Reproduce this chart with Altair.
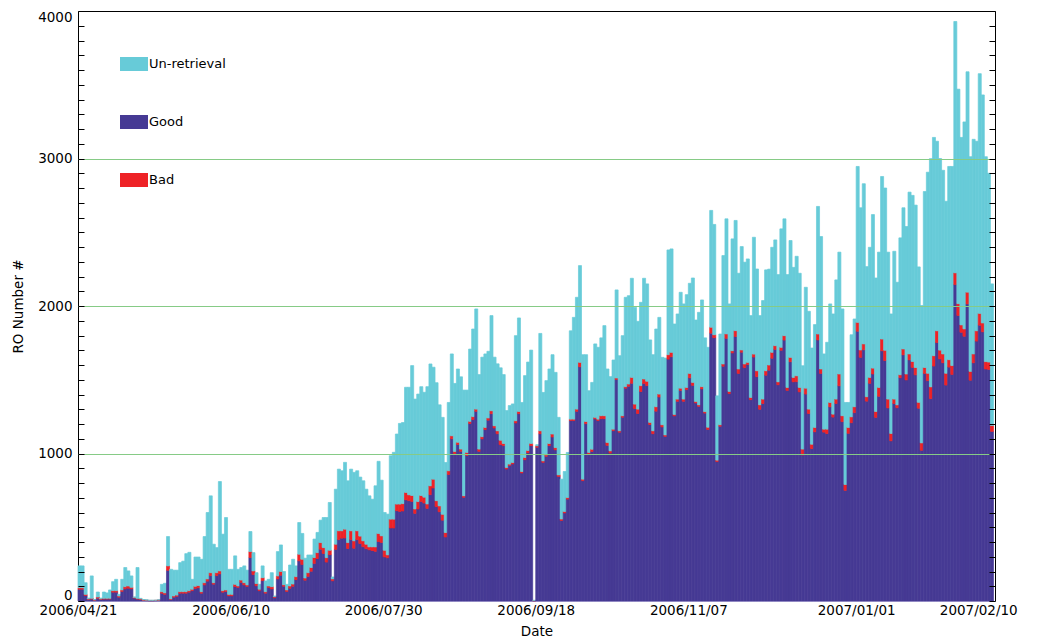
import altair as alt
import pandas as pd

start_date = "2006-04-21"

good = [
    80, 80, 37, 10, 13, 5, 19, 10, 13, 13,
    13, 60, 60, 26, 65, 82, 87, 83, 20, 13,
    10, 4, 3, 2, 2, 3, 4, 53, 45, 208,
    10, 26, 32, 53, 53, 53, 60, 70, 85, 90,
    53, 109, 135, 172, 114, 172, 184, 60, 65, 35,
    35, 98, 92, 127, 109, 99, 295, 179, 103, 70,
    138, 53, 92, 82, 22, 150, 175, 100, 65, 87,
    100, 145, 272, 248, 141, 167, 202, 255, 288, 351,
    322, 264, 314, 137, 350, 416, 426, 427, 356, 416,
    358, 416, 390, 368, 355, 347, 342, 337, 403, 397,
    299, 293, 495, 495, 612, 607, 610, 686, 680, 675,
    594, 624, 675, 664, 628, 721, 766, 640, 605, 548,
    434, 858, 1100, 999, 1061, 1015, 703, 987, 1203, 1230,
    1286, 1015, 1099, 1162, 1226, 1270, 1173, 1134, 1060, 1053,
    895, 918, 929, 1207, 1270, 868, 958, 1005, 1053, 1,
    1042, 1134, 940, 981, 1053, 1112, 1025, 845, 546, 597,
    691, 1223, 1223, 1286, 1588, 816, 1202, 997, 1014, 1235,
    1223, 1236, 1236, 1055, 1003, 1155, 1502, 1144, 1246, 1443,
    1456, 1476, 1305, 1271, 1420, 1475, 1460, 1196, 1134, 1287,
    1383, 1180, 1116, 1640, 1656, 1255, 1354, 1428, 1354, 1433,
    1513, 1462, 1343, 1320, 1438, 1274, 1163, 1816, 1785, 945,
    1185, 1592, 1781, 1406, 1682, 1793, 1543, 1687, 1582, 1603,
    1365, 1654, 1521, 1300, 1339, 1531, 1565, 1646, 1706, 1466,
    1700, 1769, 1428, 1622, 1486, 1487, 1418, 990, 1403, 1271,
    1033, 1147, 1770, 1543, 1145, 1135, 1316, 1247, 1339, 1459,
    1216, 750, 1137, 1209, 1277, 1829, 1652, 1703, 1355, 1476,
    1539, 1245, 1388, 1696, 1630, 1309, 1086, 1339, 1310, 1514,
    1669, 1499, 1635, 1584, 1533, 1307, 1022, 1543, 1494, 1372,
    1593, 1752, 1641, 1615, 1464, 1586, 1536, 2145, 1936, 1822,
    1795, 2014, 1497, 1615, 1762, 1870, 1825, 1573, 1570, 1150,
]

bad = [
    10, 10, 8, 5, 5, 3, 8, 5, 5, 5,
    5, 10, 10, 8, 10, 15, 15, 10, 5, 5,
    5, 3, 3, 2, 2, 2, 3, 10, 10, 30,
    5, 8, 8, 10, 10, 10, 10, 10, 15, 15,
    10, 15, 15, 20, 10, 20, 20, 10, 10, 10,
    10, 15, 10, 15, 15, 10, 40, 25, 15, 10,
    20, 10, 10, 15, 8, 20, 25, 10, 10, 15,
    15, 20, 45, 35, 15, 25, 25, 40, 40, 45,
    40, 30, 30, 13, 35, 60, 50, 60, 40, 60,
    50, 60, 50, 40, 30, 20, 25, 30, 55, 45,
    45, 20, 60, 60, 45, 50, 50, 50, 40, 40,
    30, 50, 40, 40, 30, 60, 60, 40, 40, 40,
    30, 25, 20, 15, 15, 15, 10, 20, 15, 20,
    15, 15, 15, 15, 15, 20, 15, 20, 30, 15,
    10, 10, 10, 15, 15, 10, 15, 15, 15, 2,
    10, 20, 10, 10, 15, 20, 15, 10, 10, 10,
    10, 10, 10, 15, 30, 10, 15, 10, 15, 10,
    10, 20, 20, 20, 15, 10, 10, 10, 10, 10,
    15, 40, 30, 30, 40, 30, 30, 15, 20, 30,
    20, 15, 10, 30, 30, 10, 15, 15, 15, 15,
    30, 20, 10, 10, 15, 10, 15, 40, 20, 10,
    10, 15, 30, 15, 15, 40, 30, 15, 25, 15,
    15, 20, 40, 30, 30, 30, 35, 40, 25, 20,
    20, 30, 20, 30, 30, 40, 30, 40, 40, 30,
    30, 30, 40, 30, 20, 30, 30, 20, 30, 80,
    40, 40, 40, 40, 40, 60, 50, 40, 30, 40,
    40, 40, 60, 80, 70, 60, 50, 30, 20, 20,
    40, 40, 40, 40, 50, 40, 50, 40, 50, 80,
    70, 80, 60, 60, 80, 50, 60, 80, 80, 50,
    50, 80, 60, 60, 70, 80, 60, 50, 50, 40,
]

unretrieved = [
    148, 148, 79, 5, 152, 2, 34, 5, 43, 37,
    57, 61, 77, 11, 72, 130, 102, 77, 2, 209,
    3, 3, 2, 1, 1, 0, 1, 50, 65, 199,
    200, 175, 169, 197, 207, 258, 260, 67, 198, 193,
    220, 313, 450, 521, 261, 170, 606, 383, 491, 170,
    170, 193, 113, 85, 114, 100, 136, 124, 74, 33,
    80, 73, 45, 95, 4, 165, 180, 90, 38, 142,
    168, 73, 215, 175, 134, 120, 85, 125, 137, 152,
    204, 272, 324, 13, 373, 418, 407, 453, 419, 418,
    464, 407, 400, 407, 373, 346, 323, 414, 489, 377,
    256, 276, 430, 453, 475, 547, 550, 713, 729, 881,
    745, 729, 738, 711, 795, 826, 759, 800, 685, 657,
    475, 463, 555, 461, 497, 490, 717, 423, 490, 594,
    679, 505, 539, 498, 452, 645, 465, 454, 491, 467,
    386, 397, 397, 577, 634, 468, 555, 600, 633, 2,
    8, 660, 464, 503, 505, 538, 510, 390, 270, 271,
    306, 599, 690, 758, 656, 844, 453, 419, 453, 498,
    487, 528, 611, 498, 503, 469, 597, 509, 543, 606,
    599, 672, 656, 595, 565, 683, 660, 559, 516, 527,
    520, 457, 521, 710, 701, 613, 577, 650, 645, 629,
    611, 708, 552, 627, 588, 500, 542, 792, 748, 436,
    615, 735, 780, 593, 758, 747, 649, 701, 690, 701,
    555, 792, 690, 605, 668, 684, 650, 712, 717, 727,
    803, 792, 765, 792, 746, 810, 774, 565, 684, 663,
    652, 697, 865, 898, 510, 589, 668, 679, 808, 826,
    724, 556, 169, 556, 595, 1057, 964, 1086, 882, 882,
    1041, 905, 917, 1102, 1100, 996, 810, 1002, 831, 928,
    957, 1000, 1097, 1126, 1101, 918, 931, 1193, 1363, 1547,
    1480, 1285, 1299, 1245, 1166, 1310, 1350, 1704, 1454, 1271,
    1403, 1494, 1455, 1455, 1285, 1625, 1546, 1389, 1280, 960,
]

series_names = ["Un-retrieval", "Good", "Bad"]
series_colors = ["#67CBD8", "#463A94", "#EE2226"]
tick_dates = [(2006, 4, 21), (2006, 6, 10), (2006, 7, 30), (2006, 9, 18),
              (2006, 11, 7), (2007, 1, 1), (2007, 2, 10)]
y_label_values = [0, 1000, 2000, 3000, 4000]
grid_values = [1000, 2000, 3000]
minor_tick_values = list(range(0, 4001, 100))

FONT = "DejaVu Sans"
PLOT_W = 917
PLOT_H = 590

# long table, stacked bottom-up: Good, Bad, Un-retrieval
days = pd.date_range(start_date, periods=len(good), freq="D")
rows = []
for i, d in enumerate(days):
    base = 0
    for name, vals in (("Good", good), ("Bad", bad), ("Un-retrieval", unretrieved)):
        v = vals[i]
        rows.append({
            "date": d.strftime("%Y-%m-%d"),
            "date_end": (d + pd.Timedelta(days=1)).strftime("%Y-%m-%d"),
            "series": name,
            "y0": base,
            "y1": base + v,
            "value": v,
        })
        base += v
df = pd.DataFrame(rows)

x_scale = alt.Scale(
    type="utc",
    domain=[alt.DateTime(year=2006, month=4, date=21, utc=True),
            alt.DateTime(year=2007, month=2, date=15, hours=12, utc=True)],
)
y_scale = alt.Scale(domain=[0, 4000], nice=False, zero=True)
tick_dt = [alt.DateTime(year=y, month=m, date=dd, utc=True) for (y, m, dd) in tick_dates]
color_scale = alt.Scale(domain=series_names, range=series_colors)

base = alt.Chart(df)

bars = base.mark_bar(strokeWidth=0.7).encode(
    x=alt.X("date:T", scale=x_scale,
            axis=alt.Axis(values=tick_dt, labelExpr="utcFormat(datum.value, '%Y/%m/%d')",
                          title="Date", ticks=False, domain=True, domainColor="#b8b2dc",
                          grid=False, labelPadding=2, titlePadding=8, labelFlush=False,
                          labelFont=FONT, labelFontSize=13.5, labelColor="black",
                          titleFont=FONT, titleFontSize=13.5, titleFontWeight="normal",
                          titleColor="black", labelOverlap=False)),
    x2="date_end:T",
    y=alt.Y("y0:Q", scale=y_scale,
            axis=alt.Axis(orient="left", values=y_label_values, format="d",
                          title="RO Number #", ticks=False, tickSize=0, domain=True,
                          domainColor="black", grid=False, labelPadding=6, titlePadding=12,
                          labelFlush=True, labelFlushOffset=1,
                          labelFont=FONT, labelFontSize=13.5, labelColor="black",
                          titleFont=FONT, titleFontSize=13.5, titleFontWeight="normal",
                          titleColor="black")),
    y2="y1:Q",
    color=alt.Color("series:N", scale=color_scale,
                    legend=alt.Legend(orient="none", legendX=42, legendY=39, title=None,
                                      symbolType="M-1,-0.5H1V0.5H-1Z", symbolSize=784,
                                      symbolStrokeWidth=0, symbolOpacity=1, rowPadding=37,
                                      labelFont=FONT, labelFontSize=13, labelColor="black",
                                      labelOffset=1, padding=0)),
    stroke=alt.Stroke("series:N", scale=color_scale, legend=None),
)

# inward ticks on the left edge + top frame line
left_ticks = base.mark_bar(opacity=0).encode(
    x=alt.X("date:T", scale=x_scale,
            axis=alt.Axis(orient="top", labels=False, ticks=False, domain=True,
                          domainColor="black", grid=False, title=None)),
    x2="date_end:T",
    y=alt.Y("y0:Q", scale=y_scale,
            axis=alt.Axis(orient="right", offset=-PLOT_W, values=minor_tick_values,
                          labels=False, ticks=True, tickSize=6, tickColor="black",
                          domain=False, grid=False, title=None, zindex=1)),
    y2="y1:Q",
)

# inward ticks on the right edge + right frame line
right_ticks = base.mark_bar(opacity=0).encode(
    x=alt.X("date:T", scale=x_scale, axis=None),
    x2="date_end:T",
    y=alt.Y("y0:Q", scale=y_scale,
            axis=alt.Axis(orient="left", offset=-PLOT_W, values=minor_tick_values,
                          labels=False, ticks=True, tickSize=6, tickColor="black",
                          domain=True, domainColor="black", grid=False, title=None, zindex=1)),
    y2="y1:Q",
)

# green horizontal grid lines drawn over the bars
grid = base.mark_bar(opacity=0).encode(
    x=alt.X("date:T", scale=x_scale, axis=None),
    x2="date_end:T",
    y=alt.Y("y0:Q", scale=y_scale,
            axis=alt.Axis(orient="left", values=grid_values, labels=False, ticks=False,
                          domain=False, grid=True, gridColor="#86CB86", gridWidth=1.2,
                          title=None, zindex=1)),
    y2="y1:Q",
)

chart = alt.layer(bars, grid, left_ticks, right_ticks).resolve_scale(
    x="shared", y="shared"
).resolve_axis(
    x="independent", y="independent"
).properties(
    width=PLOT_W, height=PLOT_H,
    autosize=alt.AutoSizeParams(type="none"),
    padding={"left": 70, "top": 3, "right": 32, "bottom": 38},
    background="white",
).configure_view(stroke=None)

chart.save("out.html", embed_options={"renderer": "svg", "actions": False})
